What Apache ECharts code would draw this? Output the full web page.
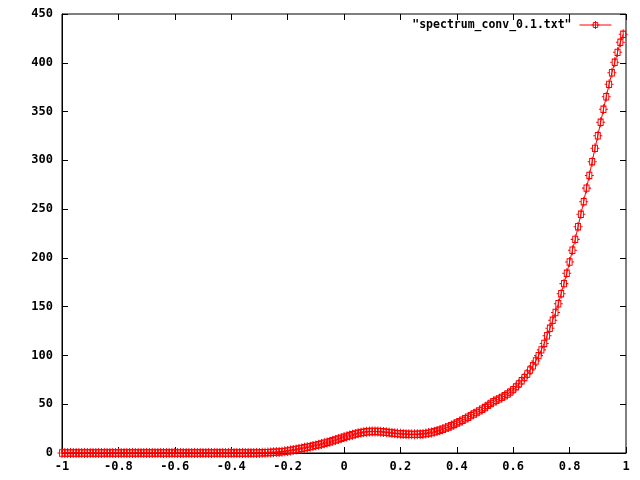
<!DOCTYPE html>
<html>
<head>
<meta charset="utf-8">
<script src="https://cdn.jsdelivr.net/npm/echarts@6/dist/echarts.min.js"></script>
<style>html,body{margin:0;padding:0;background:#fff}#c{width:640px;height:480px}</style>
</head>
<body>
<div id="c"></div>
<script>
// x sample positions: -1.00 .. 0.99 step 0.01 (200 points), listed explicitly
const xValues = [
-1.00,-0.99,-0.98,-0.97,-0.96,-0.95,-0.94,-0.93,-0.92,-0.91,
-0.90,-0.89,-0.88,-0.87,-0.86,-0.85,-0.84,-0.83,-0.82,-0.81,
-0.80,-0.79,-0.78,-0.77,-0.76,-0.75,-0.74,-0.73,-0.72,-0.71,
-0.70,-0.69,-0.68,-0.67,-0.66,-0.65,-0.64,-0.63,-0.62,-0.61,
-0.60,-0.59,-0.58,-0.57,-0.56,-0.55,-0.54,-0.53,-0.52,-0.51,
-0.50,-0.49,-0.48,-0.47,-0.46,-0.45,-0.44,-0.43,-0.42,-0.41,
-0.40,-0.39,-0.38,-0.37,-0.36,-0.35,-0.34,-0.33,-0.32,-0.31,
-0.30,-0.29,-0.28,-0.27,-0.26,-0.25,-0.24,-0.23,-0.22,-0.21,
-0.20,-0.19,-0.18,-0.17,-0.16,-0.15,-0.14,-0.13,-0.12,-0.11,
-0.10,-0.09,-0.08,-0.07,-0.06,-0.05,-0.04,-0.03,-0.02,-0.01,
0.00,0.01,0.02,0.03,0.04,0.05,0.06,0.07,0.08,0.09,
0.10,0.11,0.12,0.13,0.14,0.15,0.16,0.17,0.18,0.19,
0.20,0.21,0.22,0.23,0.24,0.25,0.26,0.27,0.28,0.29,
0.30,0.31,0.32,0.33,0.34,0.35,0.36,0.37,0.38,0.39,
0.40,0.41,0.42,0.43,0.44,0.45,0.46,0.47,0.48,0.49,
0.50,0.51,0.52,0.53,0.54,0.55,0.56,0.57,0.58,0.59,
0.60,0.61,0.62,0.63,0.64,0.65,0.66,0.67,0.68,0.69,
0.70,0.71,0.72,0.73,0.74,0.75,0.76,0.77,0.78,0.79,
0.80,0.81,0.82,0.83,0.84,0.85,0.86,0.87,0.88,0.89,
0.90,0.91,0.92,0.93,0.94,0.95,0.96,0.97,0.98,0.99
];
const yValues = [
0,0,0,0,0,0,0,0,0,0,
0,0,0,0,0,0,0,0,0,0,
0,0,0,0,0,0,0,0,0,0,
0,0,0,0,0,0,0,0,0,0,
0,0,0,0,0,0,0,0,0,0,
0,0,0,0,0,0,0,0,0,0,
0,0,0,0,0,0,0,0,0,0,
0.1,0.2,0.3,0.4,0.5,0.7,0.9,1.1,1.4,1.7,
2.1,2.6,3.1,3.6,4.1,4.7,5.3,5.9,6.5,7.1,
7.8,8.5,9.2,10.0,10.8,11.6,12.5,13.4,14.3,15.2,
16.1,17.0,17.9,18.7,19.5,20.2,20.8,21.3,21.7,22.0,
22.1,22.1,22.0,21.8,21.5,21.2,20.9,20.5,20.2,19.9,
19.7,19.5,19.3,19.2,19.1,19.1,19.2,19.3,19.6,19.9,
20.4,21.0,21.7,22.5,23.4,24.4,25.5,26.7,28.0,29.3,
30.7,32.1,33.6,35.1,36.7,38.3,39.9,41.5,43.2,44.9,
46.6,48.8,50.8,52.5,54.0,55.5,57.0,58.6,60.5,62.5,
65.0,67.8,70.8,74.0,77.3,81.0,85.0,89.4,94.3,99.8,
105.7,112.3,120.2,127.8,136.0,144.0,153.0,163.3,173.6,184.2,
195.8,207.8,219.0,232.0,244.7,257.6,271.5,284.5,298.6,312.3,
325.2,339.0,352.3,365.2,377.9,389.8,400.5,410.7,421.0,429.2
];
const seriesName = '"spectrum_conv_0.1.txt"';
const xTicks = { min: -1, max: 1, interval: 0.2 };
const yTicks = { min: 0, max: 450, interval: 50 };

const FONT = 'DejaVu Sans Mono';
const pts = xValues.map((x, i) => [x, yValues[i]]);
// box with a cross through it (gnuplot-like point)
const marker = 'path://M2,2L7,2L7,9L2,9ZM4.5,0L4.5,11M0,5.5L2,5.5M7,5.5L9,5.5';

const labelStyle = { color: '#000', fontFamily: FONT, fontWeight: 'bold', fontSize: 12 };
const tick = { show: true, inside: true, length: 6, lineStyle: { color: '#000', width: 1 } };
const noLine = { show: false, onZero: false };
const markStyle = { color: 'rgba(255,255,255,0)', borderColor: '#ff0000', borderWidth: 1 };

const chart = echarts.init(document.getElementById('c'), null, { renderer: 'canvas' });
chart.setOption({
  animation: false,
  backgroundColor: '#fff',
  grid: { left: 62, right: 14, top: 14, bottom: 27, show: true, borderColor: '#000', borderWidth: 1, containLabel: false },
  legend: {
    right: 28, top: 19, align: 'right', itemWidth: 32, itemHeight: 10, itemGap: 0, padding: 0,
    itemStyle: markStyle,
    lineStyle: { color: '#ff0000', width: 1 },
    textStyle: Object.assign({}, labelStyle, { fontSize: 11.5, padding: [0, 3, 0, 0] }), data: [seriesName]
  },
  xAxis: [
    { type: 'value', position: 'bottom', min: xTicks.min, max: xTicks.max, interval: xTicks.interval,
      axisLine: { show: true, onZero: false, lineStyle: { color: '#000' } }, axisTick: tick, splitLine: { show: false },
      axisLabel: Object.assign({ margin: 8 }, labelStyle) },
    { type: 'value', position: 'top', min: xTicks.min, max: xTicks.max, interval: xTicks.interval,
      axisLine: noLine, axisTick: tick, splitLine: { show: false }, axisLabel: { show: false } }
  ],
  yAxis: [
    { type: 'value', position: 'left', min: yTicks.min, max: yTicks.max, interval: yTicks.interval,
      axisLine: { show: true, onZero: false, lineStyle: { color: '#000' } }, axisTick: tick, splitLine: { show: false },
      axisLabel: Object.assign({ margin: 9 }, labelStyle) },
    { type: 'value', position: 'right', min: yTicks.min, max: yTicks.max, interval: yTicks.interval,
      axisLine: noLine, axisTick: tick, splitLine: { show: false }, axisLabel: { show: false } }
  ],
  series: [{
    name: seriesName, type: 'line', data: pts, xAxisIndex: 0, yAxisIndex: 0,
    symbol: marker, symbolSize: [9, 10], showSymbol: true,
    lineStyle: { color: '#ff0000', width: 1 },
    itemStyle: markStyle,
    emphasis: { disabled: true }
  }]
});
</script>
</body>
</html>
